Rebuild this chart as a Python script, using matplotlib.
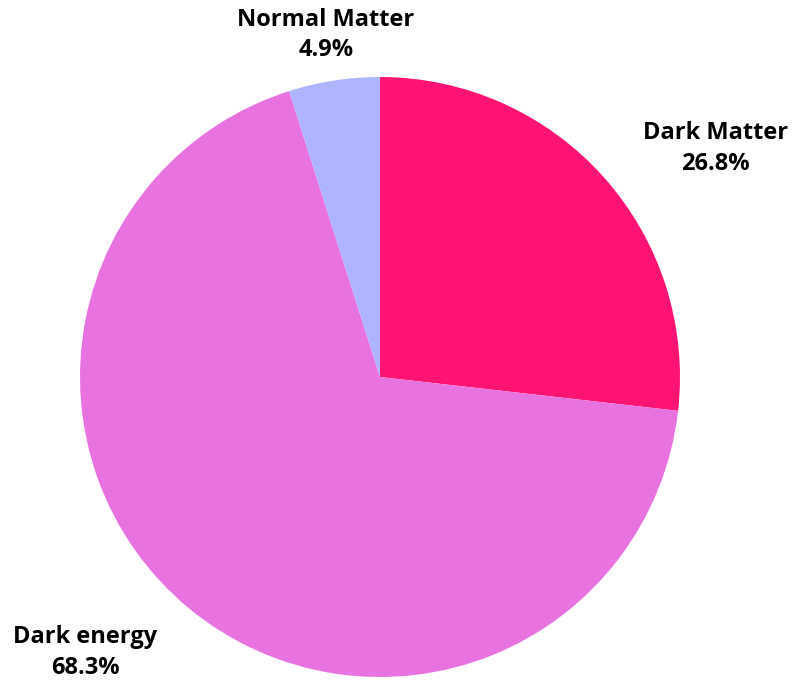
import matplotlib
matplotlib.use("Agg")
import matplotlib.pyplot as plt

# Composition of the universe
categories = ["Dark Matter", "Dark energy", "Normal Matter"]
shares = [26.8, 68.3, 4.9]
colors = ["#FF1473", "#E873E0", "#AEB4FF"]

W, H = 792, 684
fig = plt.figure(figsize=(W / 100, H / 100), dpi=100)
cx, cy, r = 380, 377, 300
ax = fig.add_axes([(cx - r) / W, (H - cy - r) / H, 2 * r / W, 2 * r / H])

ax.pie(shares, colors=colors, startangle=90, counterclock=False, radius=1,
       wedgeprops=dict(linewidth=0), frame=False, center=(0, 0))
ax.set_xlim(-1, 1)
ax.set_ylim(-1, 1)
ax.set_aspect("equal")
ax.axis("off")

# label anchor points (data units, relative to pie radius)
label_pos = {
    "Dark Matter": (1.117, 0.762),
    "Dark energy": (-0.983, -0.918),
    "Normal Matter": (-0.18, 1.14),
}
for name, val in zip(categories, shares):
    x, y = label_pos[name]
    ax.text(x, y, f"{name}\n{val}%", ha="center", va="center",
            multialignment="center", fontsize=17, fontweight="bold",
            family=["Open Sans", "DejaVu Sans"], color="#000000",
            linespacing=1.38, clip_on=False)

fig.savefig("out.png", dpi=100, facecolor="white")
